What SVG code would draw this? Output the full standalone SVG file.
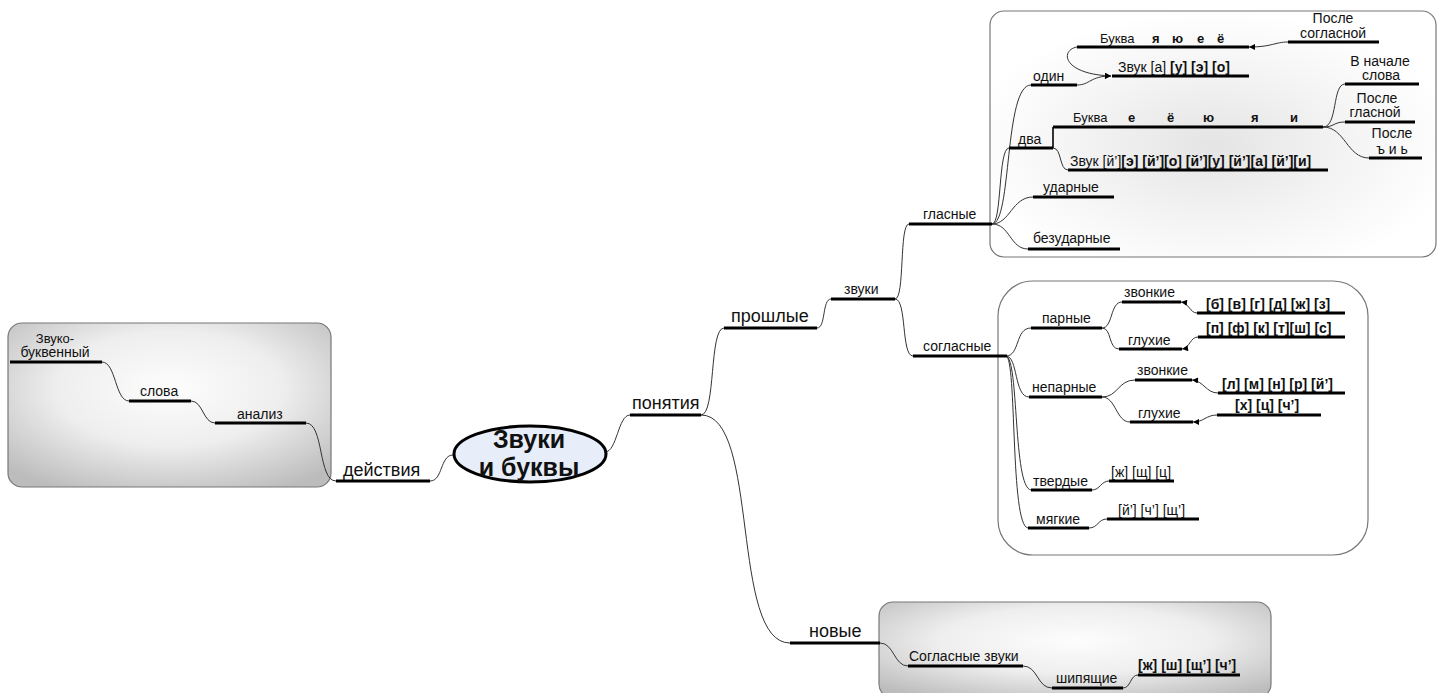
<svg xmlns="http://www.w3.org/2000/svg" width="1437" height="693" viewBox="0 0 1437 693">
<defs>
<style>
text{font-family:"Liberation Sans",Arial,sans-serif;fill:#111;}
.s{font-size:14px;}
.sm{font-size:13px;}
.l1{font-size:18px;}
.b{font-weight:bold;}
.u{stroke:#000;stroke-width:3;fill:none;}
.c{stroke:#333;stroke-width:1;fill:none;}
.ca{stroke:#333;stroke-width:1;fill:none;marker-end:url(#arr);}
.box{stroke:#777;stroke-width:1.2;}
</style>
<marker id="arr" viewBox="0 0 10 10" refX="10" refY="5" markerWidth="8" markerHeight="6" markerUnits="userSpaceOnUse" orient="auto">
<path d="M0,0 L10,5 L0,10 z" fill="#000"/>
</marker>
<radialGradient id="gGray" cx="50%" cy="40%" r="70%">
<stop offset="0" stop-color="#fdfdfd"/>
<stop offset="0.5" stop-color="#eeeeee"/>
<stop offset="1" stop-color="#bcbcbc"/>
</radialGradient>
<radialGradient id="gLight" cx="50%" cy="55%" r="55%">
<stop offset="0" stop-color="#e4e4e4"/>
<stop offset="0.6" stop-color="#f5f5f5"/>
<stop offset="1" stop-color="#ffffff"/>
</radialGradient>
</defs>

<g id="boxes">
<rect class="box" x="8" y="323" width="323" height="164" rx="14" fill="url(#gGray)"/>
<rect class="box" x="990" y="11" width="446" height="246" rx="14" fill="url(#gLight)"/>
<rect class="box" x="998" y="281" width="370" height="274" rx="35" fill="#ffffff"/>
<rect class="box" x="879" y="602" width="392" height="96" rx="14" fill="url(#gGray)"/>
</g>

<g id="connectors">
<path class="c" d="M453,455 C440,455 443,481 430,481"/>
<path class="c" d="M306,423 C324,423 318,481 336,481"/>
<path class="c" d="M102,362 C116,362 115,401 129,401"/>
<path class="c" d="M191,401 C203,401 203,423 215,423"/>
<path class="c" d="M605,452 C617,452 618,415 630,415"/>
<path class="c" d="M701,415 C716,415 709,328 724,328"/>
<path class="c" d="M701,415 C760,415 730,643 790,643"/>
<path class="c" d="M817,328 C826,328 822,299 831,299"/>
<path class="c" d="M895,299 C905,299 899,224 909,224"/>
<path class="c" d="M895,299 C907,299 901,356 913,356"/>
<path class="c" d="M992,224 C1012,224 1004,85 1031,85"/>
<path class="c" d="M992,224 C1002,224 998,148 1009,148"/>
<path class="c" d="M992,224 C1010,224 1012,197 1033,197"/>
<path class="c" d="M992,224 C1010,224 1010,249 1028,249"/>
<path class="ca" d="M1077,85 C1090,85 1090,76 1111,76"/>
<path class="ca" d="M1077,47 C1060,50 1062,74 1111,76"/>
<path class="ca" d="M1288,42 C1275,42 1272,47 1249,47"/>
<path class="c" d="M1053,148 L1053,127" style="stroke-width:2"/>
<path class="c" d="M1053,148 C1062,148 1059,170 1068,170"/>
<path class="c" d="M1323,127 C1338,127 1332,84 1345,84"/>
<path class="c" d="M1323,127 C1335,127 1333,122 1345,122"/>
<path class="c" d="M1323,127 C1345,127 1347,158 1369,158"/>
<path class="c" d="M1006,356 C1020,356 1015,328 1031,328"/>
<path class="c" d="M1006,356 C1018,356 1014,397 1029,397"/>
<path class="c" d="M1006,356 C1019,358 1013,488 1031,490"/>
<path class="c" d="M1006,356 C1017,358 1010,526 1028,528"/>
<path class="c" d="M1102,328 C1113,328 1110,302 1122,302"/>
<path class="c" d="M1102,328 C1112,328 1108,349 1119,349"/>
<path class="c" d="M1102,397 C1118,397 1118,380 1135,380"/>
<path class="c" d="M1102,397 C1116,397 1116,422 1130,422"/>
<path class="ca" d="M1197,313 C1190,313 1189,303 1181,302"/>
<path class="ca" d="M1198,337 C1190,337 1190,348 1182,349"/>
<path class="ca" d="M1218,393 C1206,393 1204,381 1192,380"/>
<path class="ca" d="M1217,415 C1206,415 1204,422 1193,422"/>
<path class="c" d="M1092,490 C1100,490 1101,481 1109,481"/>
<path class="c" d="M1089,528 C1098,528 1098,519 1107,519"/>
<path class="c" d="M880,643 C894,643 894,666 908,666"/>
<path class="c" d="M1023,666 C1038,666 1037,688 1052,688"/>
<path class="c" d="M1123,688 C1131,688 1130,675 1138,675"/>
</g>

<g id="center">
<ellipse cx="530" cy="454" rx="76" ry="28" fill="#e7edf9" stroke="#000" stroke-width="3"/>
<text x="529" y="448" text-anchor="middle" class="b" style="font-size:25px">Звуки</text>
<text x="529" y="476" text-anchor="middle" class="b" style="font-size:25px">и буквы</text>
</g>

<g id="n-deystviya"><line class="u" x1="336" y1="481" x2="430" y2="481"/><text class="l1" x="343" y="476">действия</text></g>
<g id="n-zvukobukv"><line class="u" x1="10" y1="362" x2="102" y2="362"/><text class="s" x="55" y="343" text-anchor="middle" style="font-size:13px">Звуко-</text><text class="s" x="55" y="357" text-anchor="middle">буквенный</text></g>
<g id="n-slova"><line class="u" x1="129" y1="401" x2="191" y2="401"/><text class="s" x="140" y="396">слова</text></g>
<g id="n-analiz"><line class="u" x1="215" y1="423" x2="306" y2="423"/><text class="s" x="237" y="419">анализ</text></g>

<g id="n-ponyatiya"><line class="u" x1="630" y1="415" x2="701" y2="415"/><text class="l1" x="632" y="409">понятия</text></g>
<g id="n-proshlye"><line class="u" x1="724" y1="328" x2="817" y2="328"/><text class="l1" x="731" y="322">прошлые</text></g>
<g id="n-novye"><line class="u" x1="790" y1="643" x2="880" y2="643"/><text class="l1" x="809" y="637">новые</text></g>
<g id="n-zvuki"><line class="u" x1="831" y1="299" x2="895" y2="299"/><text class="s" x="844" y="294">звуки</text></g>
<g id="n-glasnye"><line class="u" x1="909" y1="224" x2="992" y2="224"/><text class="s" x="923" y="219">гласные</text></g>
<g id="n-soglasnye"><line class="u" x1="913" y1="356" x2="1007" y2="356"/><text class="s" x="923" y="351">согласные</text></g>

<g id="n-odin"><line class="u" x1="1031" y1="85" x2="1077" y2="85"/><text class="s" x="1033" y="81">один</text></g>
<g id="n-bukva1"><line class="u" x1="1077" y1="47" x2="1249" y2="47"/><text class="sm" x="1100" y="43">Буква</text><text class="sm b" x="1152" y="43">я</text><text class="sm b" x="1172" y="43">ю</text><text class="sm b" x="1197" y="43">е</text><text class="sm b" x="1217" y="43">ё</text></g>
<g id="n-zvuk1"><line class="u" x1="1112" y1="76" x2="1249" y2="76"/><text class="s" x="1118" y="72">Звук [а] <tspan class="b">[у] [э] [о]</tspan></text></g>
<g id="n-poslesogl"><line class="u" x1="1288" y1="42" x2="1379" y2="42"/><text class="s" x="1333" y="23" text-anchor="middle">После</text><text class="s" x="1333" y="38" text-anchor="middle">согласной</text></g>
<g id="n-dva"><line class="u" x1="1009" y1="148" x2="1053" y2="148"/><text class="s" x="1018" y="144">два</text></g>
<g id="n-bukva2"><line class="u" x1="1053" y1="127" x2="1323" y2="127"/><text class="sm" x="1073" y="122">Буква</text><text class="sm b" x="1128" y="122">е</text><text class="sm b" x="1167" y="122">ё</text><text class="sm b" x="1203" y="122">ю</text><text class="sm b" x="1251" y="122">я</text><text class="sm b" x="1290" y="122">и</text></g>
<g id="n-zvuk2"><line class="u" x1="1068" y1="170" x2="1328" y2="170"/><text class="s" x="1070" y="166">Звук [й’]<tspan class="b">[э] [й’][о] [й’][у] [й’][а] [й’][и]</tspan></text></g>
<g id="n-vnachale"><line class="u" x1="1345" y1="84" x2="1419" y2="84"/><text class="s" x="1380" y="66" text-anchor="middle">В начале</text><text class="s" x="1381" y="80" text-anchor="middle">слова</text></g>
<g id="n-poslegl"><line class="u" x1="1345" y1="122" x2="1415" y2="122"/><text class="s" x="1377" y="103" text-anchor="middle">После</text><text class="s" x="1375" y="117" text-anchor="middle">гласной</text></g>
<g id="n-poslez"><line class="u" x1="1369" y1="158" x2="1422" y2="158"/><text class="s" x="1392" y="138" text-anchor="middle">После</text><text class="s" x="1392" y="154" text-anchor="middle">ъ и ь</text></g>
<g id="n-udarnye"><line class="u" x1="1033" y1="197" x2="1114" y2="197"/><text class="s" x="1043" y="192">ударные</text></g>
<g id="n-bezudarnye"><line class="u" x1="1028" y1="249" x2="1120" y2="249"/><text class="s" x="1033" y="243">безударные</text></g>

<g id="n-parnye"><line class="u" x1="1031" y1="328" x2="1102" y2="328"/><text class="s" x="1042" y="323">парные</text></g>
<g id="n-zvonkie1"><line class="u" x1="1122" y1="302" x2="1181" y2="302"/><text class="s" x="1124" y="297">звонкие</text></g>
<g id="n-bvg"><line class="u" x1="1197" y1="313" x2="1345" y2="313"/><text class="s b" x="1206" y="309">[б] [в] [г] [д] [ж] [з]</text></g>
<g id="n-gluhie1"><line class="u" x1="1119" y1="349" x2="1182" y2="349"/><text class="s" x="1128" y="345">глухие</text></g>
<g id="n-pfk"><line class="u" x1="1198" y1="337" x2="1345" y2="337"/><text class="s b" x="1206" y="333">[п] [ф] [к] [т][ш] [с]</text></g>
<g id="n-neparnye"><line class="u" x1="1029" y1="397" x2="1102" y2="397"/><text class="s" x="1032" y="392">непарные</text></g>
<g id="n-zvonkie2"><line class="u" x1="1135" y1="380" x2="1192" y2="380"/><text class="s" x="1137" y="375">звонкие</text></g>
<g id="n-lmn"><line class="u" x1="1218" y1="393" x2="1345" y2="393"/><text class="s b" x="1222" y="389">[л] [м] [н] [р] [й’]</text></g>
<g id="n-gluhie2"><line class="u" x1="1130" y1="422" x2="1193" y2="422"/><text class="s" x="1138" y="418">глухие</text></g>
<g id="n-hc"><line class="u" x1="1217" y1="415" x2="1321" y2="415"/><text class="s b" x="1235" y="410">[х] [ц] [ч’]</text></g>
<g id="n-tverdye"><line class="u" x1="1031" y1="490" x2="1092" y2="490"/><text class="s" x="1033" y="486">твердые</text></g>
<g id="n-zhshc"><line class="u" x1="1109" y1="481" x2="1174" y2="481"/><text class="s" x="1111" y="477">[ж] [щ] [ц]</text></g>
<g id="n-myagkie"><line class="u" x1="1028" y1="528" x2="1089" y2="528"/><text class="s" x="1036" y="524">мягкие</text></g>
<g id="n-ychsh"><line class="u" x1="1107" y1="519" x2="1199" y2="519"/><text class="s" x="1118" y="515">[й’] [ч’] [щ’]</text></g>

<g id="n-soglzvuki"><line class="u" x1="908" y1="666" x2="1023" y2="666"/><text class="s" x="909" y="661">Согласные звуки</text></g>
<g id="n-shipyashchie"><line class="u" x1="1052" y1="688" x2="1123" y2="688"/><text class="s" x="1056" y="683">шипящие</text></g>
<g id="n-zhsh"><line class="u" x1="1138" y1="675" x2="1240" y2="675"/><text class="s b" x="1138" y="670">[ж] [ш] [щ’] [ч’]</text></g>
</svg>
